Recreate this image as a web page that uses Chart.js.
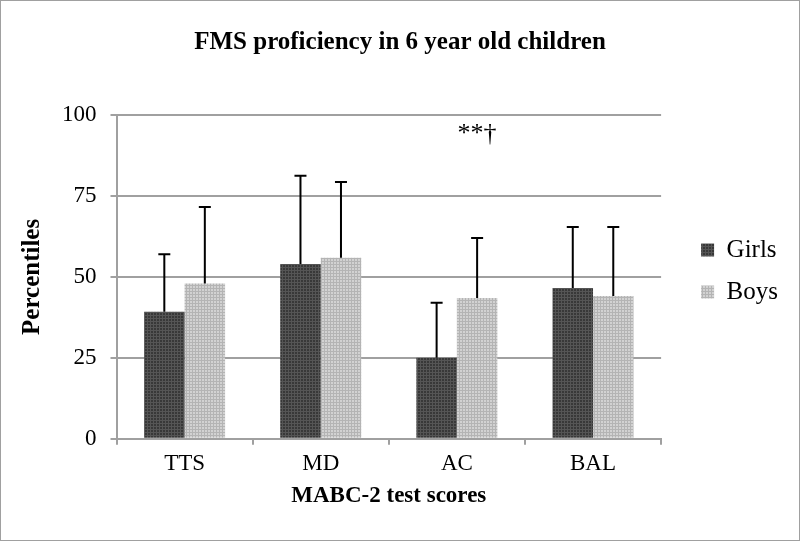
<!DOCTYPE html>
<html>
<head>
<meta charset="utf-8">
<script src="https://cdn.jsdelivr.net/npm/chart.js@4.4.0/dist/chart.umd.min.js"></script>
<style>
  html, body { margin: 0; padding: 0; background: #fff; }
</style>
</head>
<body>
<canvas id="fmsChart" width="800" height="541"></canvas>
<script>
const categories = ['TTS', 'MD', 'AC', 'BAL']
const girls = [39.2, 54.0, 25.0, 46.6]
const boys = [48.0, 55.9, 43.5, 44.1]
// upper error bar length (SD)
const girlsErr = [17.8, 27.2, 17.0, 18.8]
const boysErr = [23.6, 23.4, 18.5, 21.3]
const yTicks = [0, 25, 50, 75, 100]
const note = '**\u2020'
const noteAt = { category: 2, dataset: 1, value: 94 }

const serif = '"Liberation Serif", "Times New Roman", serif'

function makePattern(base, line) {
    const p = document.createElement('canvas')
    p.width = 3
    p.height = 3
    const g = p.getContext('2d')
    g.fillStyle = base
    g.fillRect(0, 0, 3, 3)
    g.fillStyle = line
    g.fillRect(0, 0, 3, 1)
    g.fillRect(0, 0, 1, 3)
    return g.createPattern(p, 'repeat')
}

const errorBars = {
    id: 'errorBars',
    afterDatasetsDraw(chart) {
        const ctx = chart.ctx
        const yScale = chart.scales.y
        const errs = [girlsErr, boysErr]
        ctx.save()
        ctx.strokeStyle = '#000'
        ctx.lineWidth = 2
        chart.data.datasets.forEach((ds, i) => {
            const meta = chart.getDatasetMeta(i)
            meta.data.forEach((bar, j) => {
                const top = yScale.getPixelForValue(ds.data[j] + errs[i][j])
                ctx.beginPath()
                ctx.moveTo(bar.x, bar.y)
                ctx.lineTo(bar.x, top)
                ctx.moveTo(bar.x - 6, top)
                ctx.lineTo(bar.x + 6, top)
                ctx.stroke()
            })
        })
        // significance mark
        const bar = chart.getDatasetMeta(noteAt.dataset).data[noteAt.category]
        ctx.fillStyle = '#000'
        ctx.font = '26px ' + serif
        ctx.textAlign = 'center'
        ctx.textBaseline = 'middle'
        ctx.fillText(note, bar.x, yScale.getPixelForValue(noteAt.value))
        ctx.restore()
    }
}

const frame = {
    id: 'frame',
    afterDraw(chart) {
        const ctx = chart.ctx
        ctx.save()
        ctx.strokeStyle = '#a0a0a0'
        ctx.lineWidth = 1
        ctx.strokeRect(0.5, 0.5, chart.width - 1, chart.height - 1)
        ctx.restore()
    }
}

const ctx = document.getElementById('fmsChart').getContext('2d')
new Chart(ctx, {
    type: 'bar',
    data: {
        labels: categories,
        datasets: [{
            label: 'Girls',
            data: girls,
            backgroundColor: makePattern('#383838', '#555555'),
            borderWidth: 0
        }, {
            label: 'Boys',
            data: boys,
            backgroundColor: makePattern('#d2d2d2', '#b4b4b4'),
            borderWidth: 0
        }]
    },
    options: {
        responsive: false,
        animation: false,
        layout: { padding: { left: 12, right: 12, top: 8, bottom: 31 } },
        datasets: { bar: { categoryPercentage: 0.595, barPercentage: 1 } },
        plugins: {
            title: {
                display: true,
                text: 'FMS proficiency in 6 year old children',
                color: '#000',
                font: { family: serif, size: 25, weight: 'bold' },
                padding: { top: 20, bottom: 57 }
            },
            legend: {
                position: 'right',
                // blank title only pushes the entries down a little
                title: { display: true, text: ' ', font: { size: 10 }, padding: 6 },
                labels: {
                    color: '#000',
                    font: { family: serif, size: 25 },
                    boxWidth: 13,
                    boxHeight: 13,
                    padding: 17
                }
            },
            tooltip: { enabled: false }
        },
        scales: {
            x: {
                grid: { drawOnChartArea: false, color: '#a0a0a0', lineWidth: 2, tickLength: 6, offset: true },
                border: { color: '#a0a0a0', width: 2 },
                ticks: { color: '#000', font: { family: serif, size: 23 }, padding: 5 },
                title: {
                    display: true,
                    text: 'MABC-2 test scores',
                    color: '#000',
                    font: { family: serif, size: 23, weight: 'bold' },
                    padding: { top: 0, bottom: 0 }
                }
            },
            y: {
                min: 0,
                max: 100,
                afterBuildTicks(scale) { scale.ticks = yTicks.map(v => ({ value: v })) },
                grid: { color: '#a0a0a0', lineWidth: 2, tickLength: 6 },
                border: { color: '#a0a0a0', width: 2 },
                ticks: { color: '#000', font: { family: serif, size: 23 }, padding: 14 },
                title: {
                    display: true,
                    text: 'Percentiles',
                    color: '#000',
                    font: { family: serif, size: 25, weight: 'bold' },
                    padding: { top: 6, bottom: 0 }
                }
            },
            // empty spacer between plot and legend
            gap: {
                type: 'linear',
                position: 'right',
                grid: { display: false },
                border: { display: false },
                ticks: { display: false },
                afterFit(scale) { scale.width = 23 }
            }
        }
    },
    plugins: [errorBars, frame]
})
</script>
</body>
</html>
